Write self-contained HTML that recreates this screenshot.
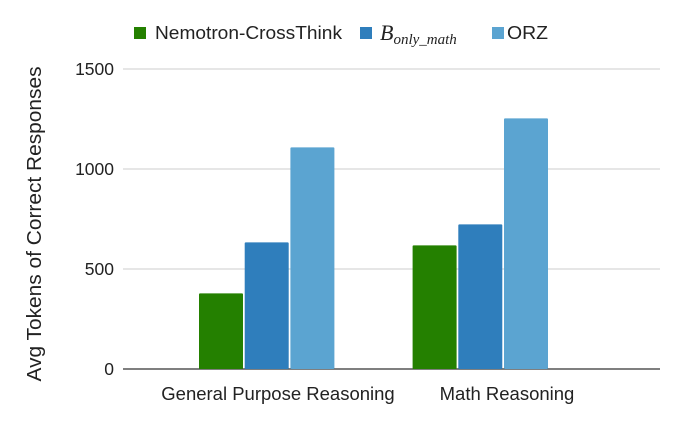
<!DOCTYPE html>
<html><head><meta charset="utf-8"><style>
html,body{margin:0;padding:0;background:#fff;}
svg{display:block;font-family:"Liberation Sans",Arial,sans-serif;}
</style></head><body>
<svg id="chart" width="682" height="425" viewBox="0 0 682 425">
<g id="grid"></g><g id="bars"></g><g id="xlabels"></g>
<text x="0" y="0" transform="translate(41,224) rotate(-90)" text-anchor="middle" font-size="20" fill="#222" textLength="315" lengthAdjust="spacingAndGlyphs">Avg Tokens of Correct Responses</text>
<g>
 <rect x="134" y="27" width="12" height="12" fill="#248000"/>
 <text x="155" y="39" font-size="18" fill="#222" textLength="187" lengthAdjust="spacingAndGlyphs">Nemotron-CrossThink</text>
 <rect x="360" y="27" width="12" height="12" fill="#2f7ebc"/>
 <text x="380" y="40" font-size="22" font-style="italic" font-family="Liberation Serif,serif" fill="#222">B<tspan font-size="15" dy="4">only_math</tspan></text>
 <rect x="492" y="27" width="12" height="12" fill="#5ba4d1"/>
 <text x="507" y="39" font-size="18" fill="#222" textLength="41" lengthAdjust="spacingAndGlyphs">ORZ</text>
</g>
</svg>
<script>
const categories = ["General Purpose Reasoning", "Math Reasoning"];
const seriesNames = ["Nemotron-CrossThink", "B_only_math", "ORZ"];
const nemotron = [378, 618];
const onlyMath = [633, 723];
const orz = [1108, 1253];
const yTicks = [0, 500, 1000, 1500];
const colors = ["#248000", "#2f7ebc", "#5ba4d1"];
const series = [nemotron, onlyMath, orz];

const NS = "http://www.w3.org/2000/svg";
const y0 = 369, yTop = 69, yMax = 1500;
const xL = 123, xR = 660;
function yScale(v){ return y0 - (v / yMax) * (y0 - yTop); }
function xCenter(i){ return 266.7 + i * 213.6; }
function labelCenter(i){ return 278 + i * 229; }
const barW = 44, barStep = 45.7;

const grid = document.getElementById("grid");
yTicks.forEach(t => {
  const l = document.createElementNS(NS, "line");
  l.setAttribute("x1", xL); l.setAttribute("x2", xR);
  l.setAttribute("y1", yScale(t)); l.setAttribute("y2", yScale(t));
  l.setAttribute("stroke", t === 0 ? "#333" : "#ccc");
  l.setAttribute("stroke-width", t === 0 ? 1.2 : 1);
  
  
  grid.appendChild(l);
  const tx = document.createElementNS(NS, "text");
  tx.setAttribute("x", 114); tx.setAttribute("y", yScale(t) + 6);
  tx.setAttribute("text-anchor", "end"); tx.setAttribute("font-size", "17.5");
  tx.setAttribute("fill", "#222");
  tx.textContent = t;
  
  
  grid.appendChild(tx);
});

const bars = document.getElementById("bars");
categories.forEach((c, i) => {
  series.forEach((s, j) => {
    const r = document.createElementNS(NS, "rect");
    const x = xCenter(i) + (j - 1) * barStep - barW / 2;
    r.setAttribute("x", x); r.setAttribute("width", barW);
    r.setAttribute("y", yScale(s[i])); r.setAttribute("height", y0 - yScale(s[i]));
    r.setAttribute("fill", colors[j]);
    r.setAttribute("rx", 1);
    
    
    bars.appendChild(r);
  });
  const tx = document.createElementNS(NS, "text");
  tx.setAttribute("x", labelCenter(i)); tx.setAttribute("y", 400);
  tx.setAttribute("text-anchor", "middle"); tx.setAttribute("font-size", "18.5");
  tx.setAttribute("fill", "#222");
  tx.textContent = c;
  
  
  document.getElementById("xlabels").appendChild(tx);
});
</script>
</body></html>
